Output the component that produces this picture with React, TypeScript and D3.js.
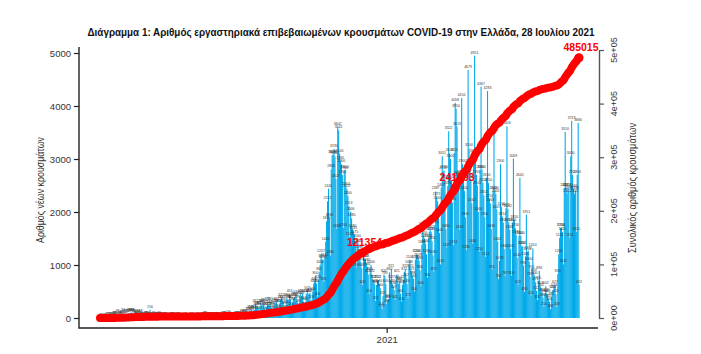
import React, { useEffect, useRef } from 'react';
import * as d3 from 'd3';

const startDate = '2020-02-26';

// daily new cases, one row per week (Wed..Tue), starting 26 Feb 2020
const dailyCases = [
  1, 1, 1, 0, 0, 1, 3,
  2, 22, 14, 10, 8, 16, 15,
  19, 37, 32, 38, 15, 76, 21,
  56, 46, 31, 65, 94, 60, 71,
  52, 71, 74, 95, 77, 98, 102,
  99, 81, 72, 63, 62, 60, 77,
  60, 39, 68, 25, 20, 19, 25,
  29, 35, 38, 21, 13, 156, 17,
  16, 14, 33, 15, 12, 28, 10,
  25, 35, 22, 21, 10, 2, 12,
  16, 15, 10, 8, 6, 9, 10,
  12, 16, 21, 10, 4, 14, 6,
  17, 15, 15, 3, 4, 8, 6,
  17, 2, 11, 4, 1, 2, 5,
  12, 15, 2, 10, 4, 9, 3,
  17, 12, 7, 5, 4, 14, 10,
  19, 41, 30, 23, 8, 20, 13,
  22, 14, 15, 25, 7, 11, 12,
  18, 19, 25, 20, 8, 8, 21,
  30, 37, 41, 28, 18, 6, 52,
  35, 22, 28, 25, 11, 13, 43,
  26, 33, 39, 37, 16, 25, 78,
  52, 60, 75, 70, 40, 61, 110,
  121, 153, 124, 151, 73, 126, 150,
  262, 205, 230, 203, 132, 217, 269,
  269, 228, 284, 200, 134, 203, 293,
  250, 243, 301, 199, 130, 167, 233,
  290, 259, 311, 262, 144, 273, 340,
  372, 337, 306, 228, 153, 254, 384,
  350, 338, 453, 342, 200, 294, 373,
  393, 384, 432, 339, 183, 255, 411,
  456, 406, 460, 312, 200, 303, 452,
  502, 460, 452, 475, 221, 338, 500,
  650, 680, 800, 650, 400, 720, 861,
  1000, 1207, 1110, 1100, 681, 1140, 1440,
  1826, 2202, 2441, 1880, 1180, 2803, 3076,
  3076, 3190, 3050, 2623, 1680, 3602, 3542,
  3100, 2965, 2900, 2700, 1700, 2780, 2800,
  2464, 2427, 2300, 2113, 1521, 2006, 1880,
  1680, 1635, 1575, 1357, 950, 1500, 1400,
  1288, 1213, 1051, 940, 620, 1188, 1113,
  1113, 1030, 960, 822, 450, 860, 1000,
  822, 712, 721, 640, 322, 622, 712,
  712, 640, 560, 200, 167, 412, 822,
  790, 640, 263, 342, 360, 860, 712,
  921, 640, 600, 527, 342, 712, 821,
  700, 640, 686, 460, 310, 626, 722,
  871, 921, 762, 640, 372, 1008, 1100,
  921, 871, 798, 740, 500, 1100, 1200,
  1200, 1129, 1083, 900, 600, 1380, 1715,
  1550, 1497, 1400, 1200, 760, 1500, 1628,
  1662, 1628, 1450, 1180, 870, 1750, 2387,
  2275, 2200, 1920, 1600, 1010, 2461, 3051,
  2766, 2786, 2612, 1680, 1329, 2490, 3522,
  3104, 3000, 2600, 2180, 1374, 3115, 4058,
  3950, 3613, 2686, 2640, 1662, 2700, 4150,
  2900, 2700, 2400, 1900, 1280, 2800, 4679,
  3200, 2900, 2600, 2162, 1400, 3100, 4951,
  3000, 2700, 2500, 2000, 1250, 2800, 4367,
  2800, 2550, 2314, 1900, 1151, 2650, 4283,
  2550, 2250, 2163, 1680, 915, 2400, 3485,
  2400, 2341, 2047, 1442, 733, 1078, 2900,
  2100, 1914, 1800, 1300, 787, 2071, 3616,
  2062, 1800, 1663, 1300, 800, 1800, 3009,
  1850, 1700, 1571, 1140, 622, 1550, 2645,
  1550, 1350, 1355, 990, 490, 1160, 1951,
  1250, 1272, 1064, 781, 420, 911, 1314,
  850, 800, 671, 512, 335, 705, 890,
  604, 562, 480, 386, 210, 460, 602,
  470, 445, 355, 305, 168, 391, 520,
  530, 574, 627, 450, 208, 830, 1200,
  1511, 1700, 1700, 1621, 1011, 2455, 3510,
  2451, 2345, 2457, 2396, 1511, 3050, 3719,
  2700, 2440, 2345, 2396, 1620, 2700, 3680,
  632,
];

// labelled points on the cumulative curve (day index from start)
const milestoneDays = [284, 384, 518];
const milestoneLabels = ['121354', '241093', '485015'];

const leftTicks = [0, 1000, 2000, 3000, 4000, 5000];
const rightTicks = [0, 100000, 200000, 300000, 400000, 500000];
const rightTickLabels = ['0e+00', '1e+05', '2e+05', '3e+05', '4e+05', '5e+05'];
const xTickDates = ['2021-01-01'];
const xTickLabels = ['2021'];

const title = 'Διάγραμμα 1: Αριθμός εργαστηριακά επιβεβαιωμένων κρουσμάτων COVID-19 στην Ελλάδα, 28 Ιουλίου 2021';
const leftTitle = 'Αριθμός νέων κρουσμάτων';
const rightTitle = 'Συνολικός αριθμός κρουσμάτων';

const W = 701;
const H = 354;
const font = "'Liberation Sans Narrow', 'Liberation Sans', Arial, sans-serif";

export default function App() {
  const ref = useRef<SVGSVGElement>(null);

  useEffect(() => {
    const svg = d3.select(ref.current);
    svg.selectAll('*').remove();

    const parse = d3.utcParse('%Y-%m-%d');
    const t0 = parse(startDate) as Date;
    const dates = dailyCases.map((_, i) => d3.utcDay.offset(t0, i));

    const x = d3.scaleUtc()
      .domain([dates[0], dates[dates.length - 1]])
      .range([100, 579]);
    const yL = d3.scaleLinear().domain([0, 5000]).range([318, 53]);
    const yR = d3.scaleLinear().domain([0, 500000]).range([318, 50]);
    const cum = Array.from(d3.cumsum(dailyCases));
    const bw = x(dates[1]) - x(dates[0]);

    // title (squeezed to the width of the original condensed face)
    svg.append('text')
      .attr('x', 341)
      .attr('y', 36)
      .attr('text-anchor', 'middle')
      .attr('textLength', 507)
      .attr('lengthAdjust', 'spacingAndGlyphs')
      .style('font-family', font)
      .style('font-weight', 'bold')
      .style('font-size', '11.5px')
      .attr('fill', '#111')
      .text(title);

    // bars
    svg.append('g')
      .selectAll('rect')
      .data(dailyCases)
      .join('rect')
      .attr('x', (d, i) => x(dates[i]) - bw * 0.5)
      .attr('width', bw + 0.15)
      .attr('y', d => yL(d))
      .attr('height', d => yL(0) - yL(d))
      .attr('fill', '#00AAEA');

    // tiny value labels
    svg.append('g')
      .selectAll('text')
      .data(dailyCases)
      .join('text')
      .attr('x', (d, i) => x(dates[i]))
      .attr('y', d => yL(d) - 2)
      .attr('text-anchor', 'middle')
      .style('font-family', font)
      .style('font-size', '3.5px')
      .attr('fill', '#333')
      .text(d => d);

    // cumulative line
    const line = d3.line<number>()
      .x((d, i) => x(dates[i]))
      .y(d => yR(d));

    svg.append('path')
      .datum(cum)
      .attr('d', line)
      .attr('fill', 'none')
      .attr('stroke', '#FF0000')
      .attr('stroke-width', 8)
      .attr('stroke-linecap', 'round')
      .attr('stroke-linejoin', 'round');

    milestoneDays.forEach((day, k) => {
      const px = x(dates[day]);
      const py = yR(cum[day]);
      svg.append('circle')
        .attr('cx', px).attr('cy', py).attr('r', 4.5)
        .attr('fill', '#FF0000');
      svg.append('text')
        .attr('x', px + 2)
        .attr('y', py - 7)
        .attr('text-anchor', 'middle')
        .style('font-family', font)
        .style('font-weight', 'bold')
        .style('font-size', '10.5px')
        .attr('fill', '#FF0000')
        .text(milestoneLabels[k]);
    });

    // L-shaped frame: left and bottom
    svg.append('path')
      .attr('d', 'M79,47V328H598')
      .attr('fill', 'none')
      .attr('stroke', '#222')
      .attr('stroke-width', 1.4);

    // left axis
    const gL = svg.append('g')
      .attr('transform', 'translate(79,0)')
      .call(d3.axisLeft(yL).tickValues(leftTicks).tickSize(5).tickPadding(3).tickFormat(d3.format('d')));
    gL.select('.domain').remove();
    gL.selectAll('line').attr('stroke', '#222').attr('stroke-width', 1.2);
    gL.selectAll('text')
      .style('font-family', font)
      .style('font-size', '9.5px')
      .attr('fill', '#333');

    // bottom axis
    const xTicks = xTickDates.map(s => parse(s) as Date);
    const gB = svg.append('g')
      .attr('transform', 'translate(0,328)')
      .call(d3.axisBottom(x).tickValues(xTicks).tickSize(5).tickPadding(3)
        .tickFormat((d, i) => xTickLabels[i]));
    gB.select('.domain').remove();
    gB.selectAll('line').attr('stroke', '#222').attr('stroke-width', 1.2);
    gB.selectAll('text')
      .style('font-family', font)
      .style('font-size', '9.5px')
      .attr('fill', '#333');

    // right axis
    const gR = svg.append('g')
      .attr('transform', 'translate(599,0)')
      .call(d3.axisRight(yR).tickValues(rightTicks).tickSize(5).tickSizeOuter(0).tickFormat(() => ''));
    gR.select('.domain').attr('stroke', '#555').attr('stroke-width', 1.4);
    gR.selectAll('line').attr('stroke', '#555').attr('stroke-width', 1.2);
    gR.selectAll('text').remove();
    svg.append('g')
      .selectAll('text')
      .data(rightTicks)
      .join('text')
      .attr('transform', (d) => `translate(614,${yR(d)}) rotate(-90)`)
      .attr('text-anchor', 'middle')
      .attr('dy', '0.35em')
      .style('font-family', font)
      .style('font-size', '9px')
      .attr('fill', '#333')
      .text((d, i) => rightTickLabels[i]);

    // axis titles
    svg.append('text')
      .attr('transform', 'translate(44,190) rotate(-90)')
      .attr('text-anchor', 'middle')
      .attr('textLength', 106)
      .attr('lengthAdjust', 'spacingAndGlyphs')
      .style('font-family', font)
      .style('font-size', '10px')
      .attr('fill', '#333')
      .text(leftTitle);

    svg.append('text')
      .attr('transform', 'translate(636,188) rotate(-90)')
      .attr('text-anchor', 'middle')
      .attr('textLength', 130)
      .attr('lengthAdjust', 'spacingAndGlyphs')
      .style('font-family', font)
      .style('font-size', '10px')
      .attr('fill', '#333')
      .text(rightTitle);
  }, []);

  return (
    <svg
      ref={ref}
      width={W}
      height={H}
      style={{ position: 'absolute', left: 0, top: 0, background: '#fff' }}
    />
  );
}
